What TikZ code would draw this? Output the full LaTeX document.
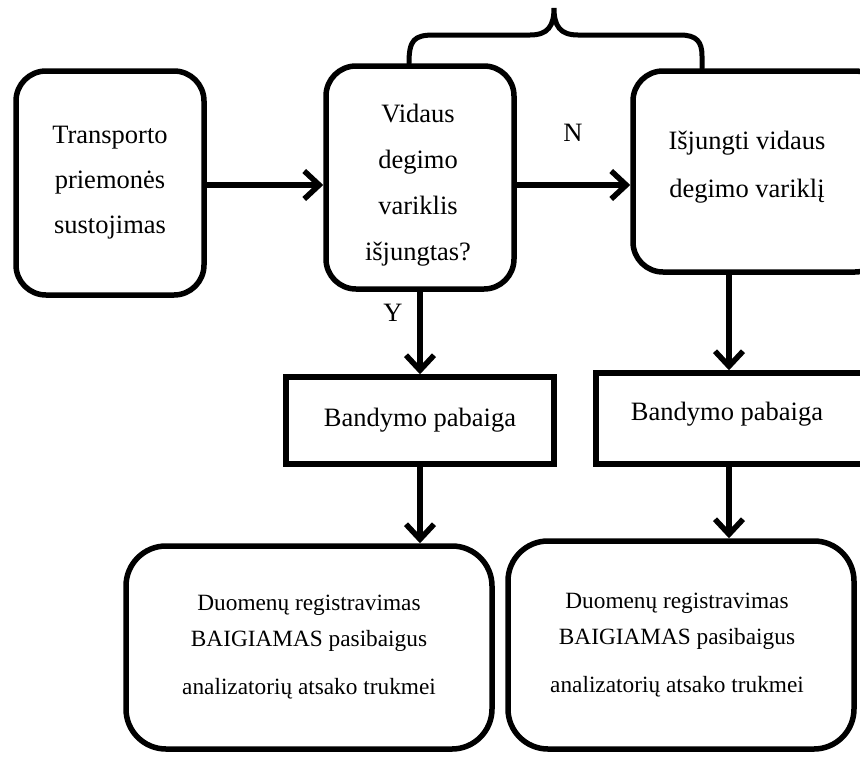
\documentclass[tikz,border=0pt]{standalone}
\usepackage{fontspec}
\setmainfont{Liberation Serif}
\usetikzlibrary{arrows.meta}
\begin{document}
\begin{tikzpicture}[x=1pt,y=-1pt,
  rbox/.style={draw, line width=5.5pt, rounded corners=30pt, inner sep=0pt, align=center},
  sqbox/.style={draw, line width=5.5pt, inner sep=0pt, align=center},
  txt/.style={align=center, inner sep=0pt, font=\fontsize{26.5}{45}\selectfont},
  smalltxt/.style={align=center, inner sep=0pt, font=\fontsize{23.3}{36}\selectfont},
  arr/.style={line width=5.5pt, -{Straight Barb[length=15pt,width=28pt]}},
  brace/.style={line width=5pt, line cap=round}
]
\clip (0,0) rectangle (860,756);
\fill[white] (0,0) rectangle (860,756);
% boxes
\node[rbox, minimum width=188pt, minimum height=224pt, font=\fontsize{26.5}{45}\selectfont] (A) at (110,183)
  {Transporto\\priemonės\\sustojimas};
\node[rbox, minimum width=188pt, minimum height=223pt] (B) at (420,177.5) {};
\node[txt, font=\fontsize{26.5}{46}\selectfont] (Bt) at (418,185) {Vidaus\\degimo\\variklis\\išjungtas?};
\node[rbox, minimum width=252pt, minimum height=201pt] (C) at (759,171.5) {};
\node[txt, font=\fontsize{26.5}{48}\selectfont] (Ct) at (747,167) {Išjungti vidaus\\degimo variklį};
\node[sqbox, minimum width=268pt, minimum height=87pt, font=\fontsize{26.5}{30}\selectfont] (D) at (420,420.5)
  {Bandymo pabaiga};
\node[sqbox, minimum width=289pt, minimum height=91pt] (E) at (740.5,418.5) {};
\node[txt] (Et) at (727,414) {Bandymo pabaiga};
\node[rbox, rounded corners=40pt, minimum width=366pt, minimum height=203pt, font=\fontsize{23.3}{36}\selectfont] (F) at (309,647.5)
  {Duomenų registravimas\\BAIGIAMAS pasibaigus\\[12pt]analizatorių atsako trukmei};
\node[rbox, rounded corners=40pt, minimum width=346pt, minimum height=208pt] (G) at (681,645) {};
\node[smalltxt] (Gt) at (677,645) {Duomenų registravimas\\BAIGIAMAS pasibaigus\\[12pt]analizatorių atsako trukmei};
% labels
\node[txt] (N) at (573,133) {N};
\node[txt] (Y) at (393,313) {Y};
% helper coordinates
\coordinate (ay) at (0,185);
\coordinate (cx) at (729,0);
% connectors
\draw[arr] (A.east |- ay) -- (B.west |- ay);
\draw[arr] (B.east |- ay) -- (C.west |- ay);
\draw[arr] (B.south) -- (D.north);
\draw[arr] (C.south -| cx) -- (E.north -| cx);
\draw[arr] (D.south) -- (D.south |- F.north);
\draw[arr] (E.south -| cx) -- (G.north -| cx);
% brace
\coordinate (bl) at (409,0);
\coordinate (br) at (702,0);
\draw[brace] (B.north -| bl) .. controls (409,40) and (414,35) .. (434,35)
  -- (530,35) .. controls (548,35) and (554,26) .. (554,8)
  .. controls (554,26) and (560,35) .. (578,35)
  -- (680,35) .. controls (697,35) and (702,42) .. (702,56) -- (C.north -| br);
\end{tikzpicture}
\end{document}
